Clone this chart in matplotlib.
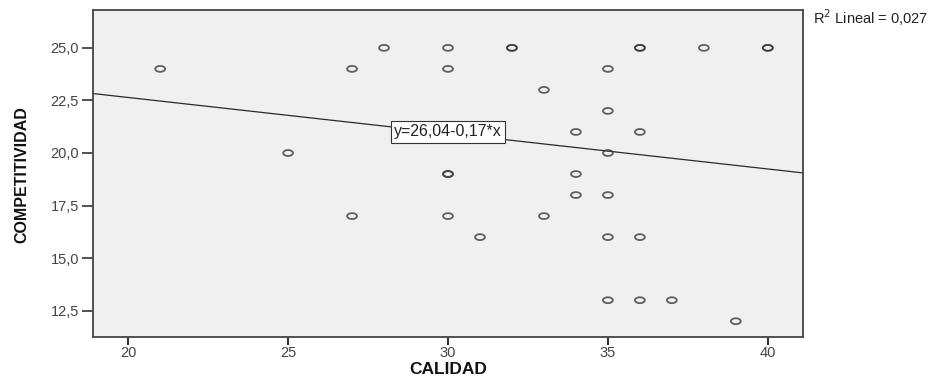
import numpy as np
import matplotlib
matplotlib.use("Agg")
import matplotlib.pyplot as plt
from matplotlib.path import Path

# data
calidad = [21, 25, 27, 27, 28, 30, 30, 30, 30, 30, 31, 32, 32, 33, 33, 34, 34, 34,
           35, 35, 35, 35, 35, 35, 36, 36, 36, 36, 36, 37, 38, 39, 40, 40]
competitividad = [24, 20, 24, 17, 25, 25, 24, 19, 19, 17, 16, 25, 25, 23, 17, 21, 19, 18,
                  24, 22, 20, 18, 16, 13, 25, 25, 21, 16, 13, 13, 25, 12, 25, 25]
intercept = 26.04
slope = -0.17
r2_text = "R$^2$ Lineal = 0,027"
eq_text = "y=26,04-0,17*x"
xticks = [20, 25, 30, 35, 40]
yticks = [12.5, 15.0, 17.5, 20.0, 22.5, 25.0]

plt.rcParams['font.family'] = ['Liberation Sans', 'DejaVu Sans']

fig = plt.figure(figsize=(9.41, 3.79), dpi=100)
ax = fig.add_axes([93 / 941, 1 - 337 / 379, 710 / 941, 327 / 379])
ax.set_facecolor('#f0f0f0')

# slightly flattened circle, like the stretched original
t = np.linspace(0, 2 * np.pi, 40)
ell = Path(np.column_stack([np.cos(t), 0.6 * np.sin(t)]), closed=True)
ax.scatter(calidad, competitividad, marker=ell, s=50, facecolors='none',
           edgecolors='#3a3a3a', linewidths=1.3, alpha=0.8, zorder=3)

xmin, xmax = 18.9, 41.1
xs = np.array([xmin, xmax])
ax.plot(xs, intercept + slope * xs, color='#2a2a2a', lw=0.9, zorder=2)
ax.text(30.0, 21.0, eq_text, fontsize=11.5, ha='center', va='center', color='#222222',
        bbox=dict(boxstyle='square,pad=0.2', fc='white', ec='#333333', lw=0.8), zorder=4)

ax.set_xlim(xmin, xmax)
ax.set_ylim(11.25, 26.8)
ax.set_xticks(xticks)
ax.set_xticklabels([str(v) for v in xticks])
ax.set_yticks(yticks)
ax.set_yticklabels([f"{v:.1f}".replace('.', ',') for v in yticks])
ax.tick_params(axis='y', length=8, width=1.2, colors='#333333', labelcolor='#444444',
               labelsize=10.5, pad=2)
ax.tick_params(axis='x', length=6, width=1.5, colors='#333333', labelcolor='#444444',
               labelsize=10.5, pad=0.5)
for s in ax.spines.values():
    s.set_color('#444444')
    s.set_linewidth(1.3)

fig.text(448 / 941, 1 - 369 / 379, 'CALIDAD', fontsize=12.5, fontweight='bold',
         ha='center', va='center', color='#111111')
fig.text(22 / 941, 1 - 175 / 379, 'COMPETITIVIDAD', rotation=90, fontsize=11.5,
         fontweight='bold', ha='center', va='center', color='#111111',
         family=['Liberation Sans Narrow', 'Liberation Sans', 'DejaVu Sans'])
fig.text(813 / 941, 1 - 18 / 379, r2_text, fontsize=10.5, ha='left', va='center', color='#222222')

fig.savefig('out.png', dpi=100)
